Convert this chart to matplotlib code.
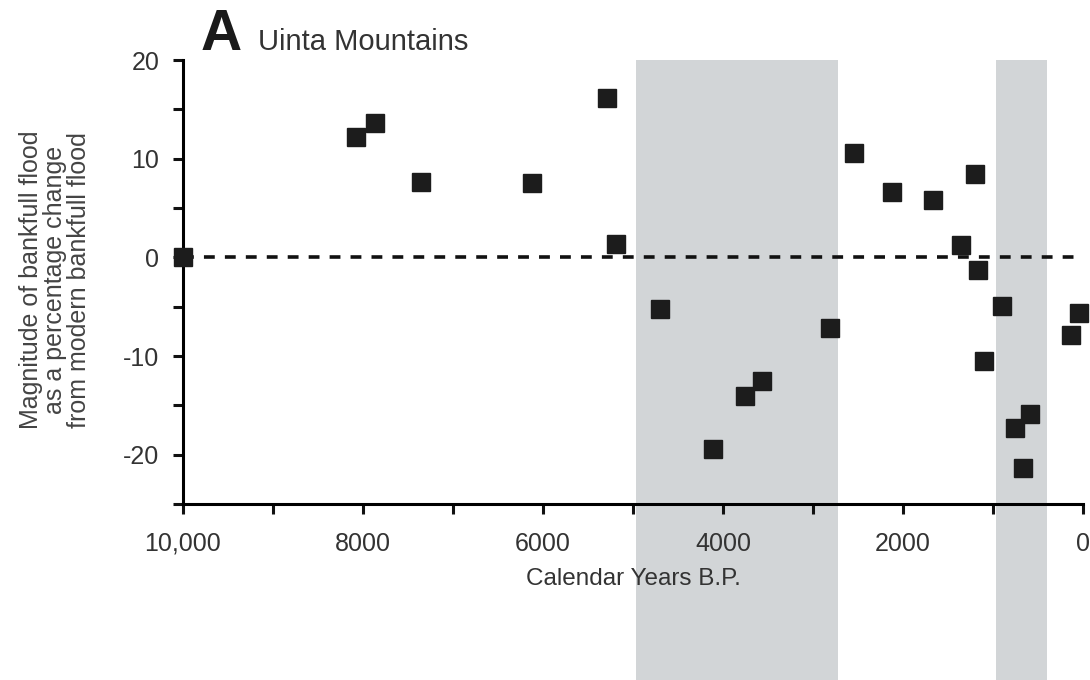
import matplotlib
matplotlib.use("Agg")
import matplotlib.pyplot as plt
from matplotlib.ticker import MultipleLocator, FixedLocator

plt.rcParams['font.family'] = ['Liberation Sans', 'DejaVu Sans']

# years B.P. and flood magnitude (% change from modern bankfull flood)
years = [10000, 8078, 7867, 7359, 6122, 5290, 5190, 4697, 4107, 3756,
         3563, 2815, 2542, 2124, 1664, 1356, 1200, 1162, 1096, 896,
         753, 665, 586, 133, 47]
magnitude = [0.0, 12.2, 13.6, 7.6, 7.5, 16.1, 1.4, -5.2, -19.4, -14.1,
             -12.5, -7.2, 10.55, 6.6, 5.8, 1.3, 8.45, -1.3, -10.5, -4.9,
             -17.3, -21.35, -15.85, -7.9, -5.65]

# shaded periods (years B.P.)
band_starts = [4970, 970]
band_ends = [2720, 400]

x_ticks = [10000, 8000, 6000, 4000, 2000, 0]
x_tick_labels = ["10,000", "8000", "6000", "4000", "2000", "0"]
y_ticks = [20, 10, 0, -10, -20]
y_tick_labels = ["20", "10", "0", "-10", "-20"]

text_col = "#333333"

fig = plt.figure(figsize=(10.9, 6.8), dpi=100)
ax = fig.add_axes([183 / 1090, 1 - 504 / 680, 900 / 1090, 444 / 680])

for s, e in zip(band_starts, band_ends):
    ax.axvspan(s, e, ymin=-0.42, ymax=1.0, color="#d2d5d7", lw=0,
               zorder=0, clip_on=False)

ax.axhline(0, color="#111111", lw=2.6, dashes=(3.0, 2.8), zorder=2)
ax.plot(years, magnitude, ls="none", marker="s", ms=12.5,
        color="#1c1c1c", zorder=3, clip_on=False)

ax.set_xlim(10000, 0)
ax.set_ylim(-25, 20)

ax.spines["top"].set_visible(False)
ax.spines["right"].set_visible(False)
ax.spines["left"].set_linewidth(2.2)
ax.spines["bottom"].set_linewidth(2.2)

ax.xaxis.set_major_locator(FixedLocator(x_ticks))
ax.set_xticklabels(x_tick_labels)
ax.xaxis.set_minor_locator(MultipleLocator(1000))
ax.yaxis.set_major_locator(FixedLocator(y_ticks))
ax.set_yticklabels(y_tick_labels)
ax.yaxis.set_minor_locator(MultipleLocator(5))

ax.tick_params(which="both", direction="out", length=7, width=2.2,
               color="#111111")
ax.tick_params(axis="x", which="major", pad=13, labelsize=18,
               labelcolor=text_col)
ax.tick_params(axis="y", which="major", pad=10, labelsize=18,
               labelcolor=text_col)

ax.set_xlabel("Calendar Years B.P.", fontsize=17.5, color=text_col,
              labelpad=9)
ax.set_ylabel("Magnitude of bankfull flood\nas a percentage change\nfrom modern bankfull flood",
              fontsize=18, color="#444444", linespacing=1.0)
ax.yaxis.set_label_coords(-0.102, 0.505)

fig.text(201 / 1090, 1 - 50 / 680, "A", fontsize=41, fontweight="bold",
         color="#1a1a1a", ha="left", va="baseline")
fig.text(258 / 1090, 1 - 50 / 680, "Uinta Mountains", fontsize=21,
         color=text_col, ha="left", va="baseline")

fig.savefig("out.png", dpi=100)
